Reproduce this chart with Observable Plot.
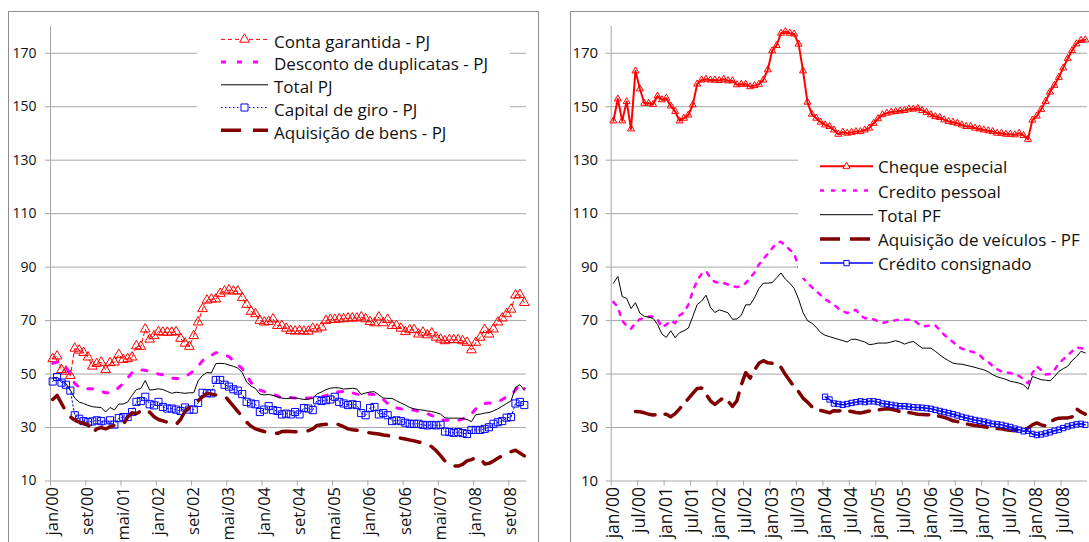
<!DOCTYPE html>
<html lang="pt">
<head>
<meta charset="utf-8">
<script src="https://cdn.jsdelivr.net/npm/d3@7"></script>
<script src="https://cdn.jsdelivr.net/npm/@observablehq/plot@0.6"></script>
<style>
html,body{margin:0;padding:0;background:#fff;}
#wrap{position:relative;width:1089px;height:542px;overflow:hidden;font-family:"Open Sans",sans-serif;}
.frame{position:absolute;border:1px solid #8e8e8e;box-sizing:border-box;}
</style>
</head>
<body>
<div id="wrap"></div>
<script>
// ---------- Left panel (PJ), monthly jan/00 .. dez/08 ----------
const contaGarantida = [55.7,56.7,51.6,51,49.4,59.6,58.9,58,56.3,52.9,
53.9,54.4,51.6,54.2,54.4,57.3,55.4,55.7,56.3,60.5,
60.3,66.8,63,64.3,65.8,65.6,65.6,65.6,65.8,63.3,
61.5,60.3,64.3,69.4,74.4,77.6,78,78,80.1,81,
81.4,81,81,78.5,76,73.4,72.5,70,69.4,69.6,
70.6,68.1,68.1,67.1,66.2,66,66.2,66,66,67.1,
66.8,67.5,70,70.4,70.4,70.6,70.6,70.9,70.9,70.9,
71.3,70.6,69.6,69.1,71.3,69.1,70.4,68.1,68.1,67.1,
65.8,66.5,66.6,64.9,65.6,64.6,65.3,63.7,63,62.4,
62.8,62.8,62.8,62.4,61.8,59,61.8,63.7,66.6,64.9,
66.8,69.4,70.9,72.5,74.2,79.5,79.7,76.7];

const descontoDuplicatas = [54,54.5,53.5,52.5,50,46.5,45,44.5,44.5,44.5,
44,43.5,43,43,43.5,45,46.5,48.5,50.5,51.5,
51.5,51.4,51,50.5,50,49.7,49,48.5,48.3,48.5,
49,50,51.2,53,55,56.2,57,58,57.8,57,
56.5,55,53.5,52,49.5,46.8,45,44,43.4,43,
42.5,41.8,41,41.3,41.2,41,41,41,41,41.2,
41.4,41.5,42,42.5,43,43.4,43.5,43.4,43,42.5,
42.2,42.3,42.5,42.3,41.8,40.5,39,37.7,37.3,37,
36.8,36.7,36.5,36,35.6,35.2,34.5,33.7,33,32.7,
32.7,32.7,32.7,33.2,34,35,37,38.5,39,39.2,
39.2,39.5,40.5,41.5,42.2,44,46.2,44.5];

const totalPJ = [48.5,48.8,47.5,46.5,44,41,39.5,39,38.3,37.8,
37.6,37.5,35.8,37.5,36.6,38.8,38.8,39.5,42,44.2,
44.6,47.6,44,44.2,44.5,44.2,43.5,42.8,43.2,43,
42.8,43,43,47.5,49.5,50.6,50.4,53.9,54,53.9,
53.4,52.9,52.2,50.6,47,45.5,44.6,42.5,42.2,42.4,
42,41.5,41,40.8,41,41.1,40.8,40.5,40.6,41,
42.6,43.3,44.2,44.7,44.9,44.8,44.4,44.5,44.7,44.4,
42.4,42.9,43.3,43.4,42.2,41,40.9,40.9,40,39.2,
38.4,37.5,37,36.7,36.5,36.2,36,35.6,35,33.6,
33.5,33.5,33.5,33.4,33,32.2,34.8,35,35.4,35.6,
36.2,37,38,39,40,45,46,44];

const capitalGiro = [47.2,48.9,46.8,46,43.8,34.6,33.3,32.4,32,32.3,
32.7,32.4,31.1,32.7,31.1,33.5,33.9,33.9,35.8,39.6,
39.9,41.5,38.7,38.3,39.6,37.7,37.1,37.1,36.7,36.2,
37.5,36.7,36.7,39.2,43,42.8,42.8,47.8,47.8,46,
45.3,44.3,43.8,42.5,39.6,39,38.7,35.8,36.7,38,
36.5,36.2,34.9,35.2,34.9,35.8,34.9,37.3,37.1,36.5,
40.2,39.9,40.2,40.5,41.5,39.6,39,38.4,38.7,38.4,
35.4,34.6,37.3,37.7,34.9,35.4,34.6,32.4,32.7,32.4,
31.8,31.4,31.4,31.4,31,30.8,31,30.8,31,28.5,
28.3,28,28.3,27.9,27.6,29.1,29.1,29.1,29.5,30.1,
31.4,32,32.4,33.7,33.9,39,39.6,38.4];

const aquisicaoBens = [40.5,42,39,36,34,32.8,32,31.5,31,28,
29.5,30,29.5,30.2,30.8,31,31.1,33.9,35.5,35.2,
36.2,35,35.8,34,33,32.5,32,31.5,31.1,33,
36,37.5,38,40,41.5,42.8,42.5,42.2,42,41.8,
40,38,36,34,32,30.5,29.5,29,28.5,28.2,
28,27.8,28.5,28.6,28.5,28.4,28.5,28.6,28.8,29.5,
30.8,31,31.2,31.4,31.6,31,30.3,29.5,29.2,29,
28.6,28.2,28,27.8,27.6,27.2,27,26.6,26.3,26,
25.7,25.3,25,24.6,24.2,23.8,22.8,21.3,19.5,17.5,
16,15.6,15.6,16.2,17.5,18,18.7,18.5,16.4,16.6,
17.5,18.5,19.5,20.6,21,21.5,20.5,19.4];

// ---------- Right panel (PF) ----------
const chequeEspecial = [144.7,152.9,144.7,151.9,141.7,163.4,156.7,151.3,151.3,150.9,
154,152.6,153.2,150.3,148.2,144.7,145.7,146.9,150.7,158.5,
160,160.3,160,160,159.8,160.3,159.7,159.7,158.2,158.4,
158.4,157.5,157.9,158.4,160,163.8,170.9,172.9,177.5,178.1,
177.5,177.2,173.4,163.4,151.7,147.2,145.7,144.2,143.2,142.6,
141.3,139.7,140.5,140.1,140.4,140.7,140.7,141.3,142,143.8,
145.5,147,147.6,148,148.2,148.4,148.6,149.1,149.1,149.4,
148.6,147.9,147,146.3,146,145.1,144.5,144.2,143.8,143.2,
142.6,142.6,142,141.7,141.3,141,140.7,140.1,140.1,139.7,
139.7,139.5,140.1,139.2,137.8,145,146.5,149,152,155.5,
158,161,164.5,168,171,173.5,174.8,175];

const creditoPessoal = [77,75,70,68,67,69,70.5,71,71.5,71.5,
70.5,67.5,68.5,70,69,72,73,76,81,85,
87.5,88.5,86,84.5,84,84,83.5,83,82.5,83,
84,86,88,91,93,95,97,99,99.5,98,
96.5,95,90,86,84,82.5,81,79.5,78,77,
76,74.5,73.5,72.8,73.5,74,72,70.9,70.7,70.5,
69.8,69.1,69.5,70,70.1,70.3,70.3,70.3,70.3,69,
67.8,68,68.2,68.2,66.5,64.7,63.2,62,60.5,59.5,
59,58.5,58,57.2,55.5,54.5,53,51.8,51,50.6,
50.4,49.8,49.3,48,46.5,50.4,52.9,51.5,49.8,50,
51.5,54,55.5,57,58.5,60,59.7,59.2];

const totalPF = [84,86.5,79,78.3,74.5,76.7,72.8,71.6,71.3,70.8,
68.6,65,63.7,66.2,63.6,65.5,66.2,67.2,71.5,76,
77.3,79.5,75,73,74,73.5,72.9,70.5,70.6,72,
75.9,75.9,78.5,82,84,84,84.2,86,87.8,85.5,
84,82,78,73,70,69,67.5,65.5,64.5,64,
63.5,63,62.5,62,63,63,62.5,62,61,61.2,
61.6,61.6,61.6,62,62.5,62,61.2,61.8,62.2,61,
59.7,59.7,59.7,58.5,57.2,56,55,54.1,53.8,53.7,
53.3,52.9,52.5,52,51.6,50.8,49.8,49,48.5,48,
47.3,47,46.6,46,44.3,49.1,48.5,47.9,47.7,47.5,
49,51,52,52.9,55,56.5,58.5,57.9];

const aquisicaoVeiculos = [null,null,null,null,null,36,35.9,35.5,35,34.7,
34.8,35,35,34,35.2,37,39,40.8,42.8,44.6,
44.8,42.5,40,38.6,40,41.2,39.8,37.9,40,46,
50.5,48.5,51.5,54,55,54.2,54,53.7,52.5,49.8,
47.5,45.2,43.4,41,39.5,37.8,36.8,36.4,36,35.5,
36.3,36.2,36.4,36.2,36,35.6,35.4,35.8,36.2,36.4,
36.6,36.8,37,36.8,36.4,36,35.8,35.6,35.3,35,
34.9,34.8,34.8,34.6,34.2,33.8,33.2,32.5,32.2,31.8,
31.4,31,30.8,30.6,30.3,30,29.8,29.6,29.5,29.2,
29,28.8,29,29.2,29.8,31,31.7,31,30.6,32,
33,33.5,33.6,33.6,34,37,35.8,35];

const creditoConsignado = [null,null,null,null,null,null,null,null,null,null,
null,null,null,null,null,null,null,null,null,null,
null,null,null,null,null,null,null,null,null,null,
null,null,null,null,null,null,null,null,null,null,
null,null,null,null,null,null,null,null,41.5,40.5,
39,38.8,38.5,38.8,39.2,39.5,39.8,39.5,39.8,39.8,
39.5,39,38.8,38.5,38.2,38,38,37.8,37.6,37.5,
37.4,37.2,37,36.6,36.2,35.8,35.4,35,34.5,34,
33.6,33.2,32.8,32.5,32.2,31.8,31.4,31.2,31,30.6,
30.2,29.6,29.2,28.6,28.8,27.6,27.2,27.4,27.8,28.2,
28.8,29.2,29.8,30.4,30.8,31.2,31.4,31];

// ---------- Axis labels ----------
const leftTickLabels = ["jan/00","set/00","mai/01","jan/02","set/02","mai/03","jan/04",
  "set/04","mai/05","jan/06","set/06","mai/07","jan/08","set/08"];
const rightTickLabels = ["jan/00","jul/00","jan/01","jul/01","jan/02","jul/02","jan/03","jul/03",
  "jan/04","jul/04","jan/05","jul/05","jan/06","jul/06","jan/07","jul/07","jan/08","jul/08"];
const yTicks = [10,30,50,70,90,110,130,150,170];

// ---------- Rendering ----------
const FONT = '"Open Sans", sans-serif';
const GRID = "#a6a6a6";
const TXT = "#111";
const wrap = document.getElementById("wrap");

function frame(l, t, w, h) {
  const d = document.createElement("div");
  d.className = "frame";
  Object.assign(d.style, {left: l + "px", top: t + "px", width: w + "px", height: h + "px"});
  wrap.appendChild(d);
}
frame(8, 11, 531, 560);
frame(570, 11, 560, 560);

function drawPanel(cfg) {
  const tickIdx = cfg.tickLabels.map((_, k) => k * cfg.tickStep);
  const labelMap = new Map(tickIdx.map((t, k) => [t + 0.5, cfg.tickLabels[k]]));
  const marks = [
    Plot.gridY(yTicks.filter(v => v > 10), {stroke: GRID, strokeOpacity: 1}),
    Plot.ruleY([10], {stroke: GRID}),
    Plot.ruleX([0], {stroke: GRID}),
    Plot.axisY(yTicks, {tickSize: 5, tickPadding: cfg.yPad, stroke: GRID, fill: TXT, fontSize: cfg.yFont, label: null}),
    Plot.axisX(tickIdx, {tickSize: 5, tickFormat: () => "", stroke: GRID, label: null}),
    Plot.axisX([...labelMap.keys()], {tickSize: 0, tickPadding: 6, tickRotate: -90,
      tickFormat: d => labelMap.get(d), fontSize: cfg.xFont, fill: TXT, label: null})
  ];
  for (const s of cfg.series) {
    const data = s.values.map((v, i) => ({x: i + 0.5, y: v}));
    marks.push(Plot.line(data, {x: "x", y: "y", stroke: s.color, strokeWidth: s.width,
      strokeDasharray: s.dash, strokeLinejoin: "round"}));
    if (s.symbol) marks.push(Plot.dot(data.filter(d => d.y != null), {x: "x", y: "y",
      symbol: s.symbol, r: s.r, stroke: s.color, fill: "none", strokeWidth: 1}));
  }
  const svg = Plot.plot({
    width: cfg.width, height: 542,
    marginLeft: cfg.marginLeft, marginRight: cfg.marginRight, marginTop: 26, marginBottom: 61.5,
    x: {domain: [0, 108]}, y: {domain: [10, 180]},
    style: {background: "transparent", fontFamily: FONT, overflow: "visible"},
    marks
  });
  svg.style.position = "absolute";
  svg.style.left = cfg.left + "px";
  svg.style.top = "0px";
  wrap.appendChild(svg);
}

function drawLegend(cfg) {
  const svg = d3.create("svg").attr("width", cfg.w).attr("height", cfg.h)
    .style("position", "absolute").style("left", cfg.x + "px").style("top", cfg.y + "px");
  svg.append("rect").attr("width", cfg.w).attr("height", cfg.h).attr("fill", "#fff");
  cfg.series.forEach((s, k) => {
    const b = cfg.baselines[k] - cfg.y;
    const ly = b - cfg.offset;
    svg.append("line").attr("x1", cfg.s0 - cfg.x).attr("x2", cfg.s1 - cfg.x)
      .attr("y1", ly).attr("y2", ly).attr("stroke", s.color).attr("stroke-width", s.width)
      .attr("stroke-dasharray", s.dash || null);
    if (s.symbol) {
      const type = s.symbol === "triangle" ? d3.symbolTriangle : d3.symbolSquare;
      svg.append("path").attr("d", d3.symbol(type, Math.PI * s.r * s.r)())
        .attr("transform", `translate(${(cfg.s0 + cfg.s1) / 2 - cfg.x},${ly})`)
        .attr("fill", "#fff").attr("stroke", s.color).attr("stroke-width", 1);
    }
    svg.append("text").attr("x", cfg.tx - cfg.x).attr("y", b).text(s.name)
      .attr("font-size", cfg.fontSize).attr("font-family", FONT).attr("fill", TXT);
  });
  wrap.appendChild(svg.node());
}

const leftSeries = [
  {name: "Conta garantida - PJ", values: contaGarantida, color: "#ff0000", width: 1, dash: "4,3", symbol: "triangle", r: 3.6},
  {name: "Desconto de duplicatas - PJ", values: descontoDuplicatas, color: "#ff00ff", width: 3, dash: "5,11"},
  {name: "Total PJ", values: totalPJ, color: "#000000", width: 1},
  {name: "Capital de giro - PJ", values: capitalGiro, color: "#0000ff", width: 1, dash: "1.5,2.5", symbol: "square", r: 4},
  {name: "Aquisição de bens - PJ", values: aquisicaoBens, color: "#800000", width: 3.5, dash: "20,12"}
];
const rightSeries = [
  {name: "Cheque especial", values: chequeEspecial, color: "#ff0000", width: 2, symbol: "triangle", r: 2.6},
  {name: "Credito pessoal", values: creditoPessoal, color: "#ff00ff", width: 2.5, dash: "4,7"},
  {name: "Total PF", values: totalPF, color: "#000000", width: 1},
  {name: "Aquisição de veículos - PF", values: aquisicaoVeiculos, color: "#800000", width: 3.5, dash: "20,10"},
  {name: "Crédito consignado", values: creditoConsignado, color: "#0000ff", width: 1.5, symbol: "square", r: 3}
];

drawPanel({left: 0, width: 545, marginLeft: 50, marginRight: 19, series: leftSeries,
  tickLabels: leftTickLabels, tickStep: 8, yFont: 14, xFont: 16.5, yPad: 9});
drawPanel({left: 545, width: 544, marginLeft: 65.7, marginRight: 2, series: rightSeries,
  tickLabels: rightTickLabels, tickStep: 6, yFont: 15, xFont: 17.5, yPad: 8});

drawLegend({x: 197, y: 22, w: 313, h: 124, s0: 221, s1: 268, tx: 274,
  baselines: [47.7, 70.4, 93.1, 115.8, 138.5], offset: 8.3, fontSize: 17, series: leftSeries});
drawLegend({x: 798, y: 150, w: 291, h: 128, s0: 820, s1: 873, tx: 878,
  baselines: [173.3, 197.5, 221.7, 245.9, 270.1], offset: 7, fontSize: 17, series: rightSeries});
</script>
</body>
</html>
